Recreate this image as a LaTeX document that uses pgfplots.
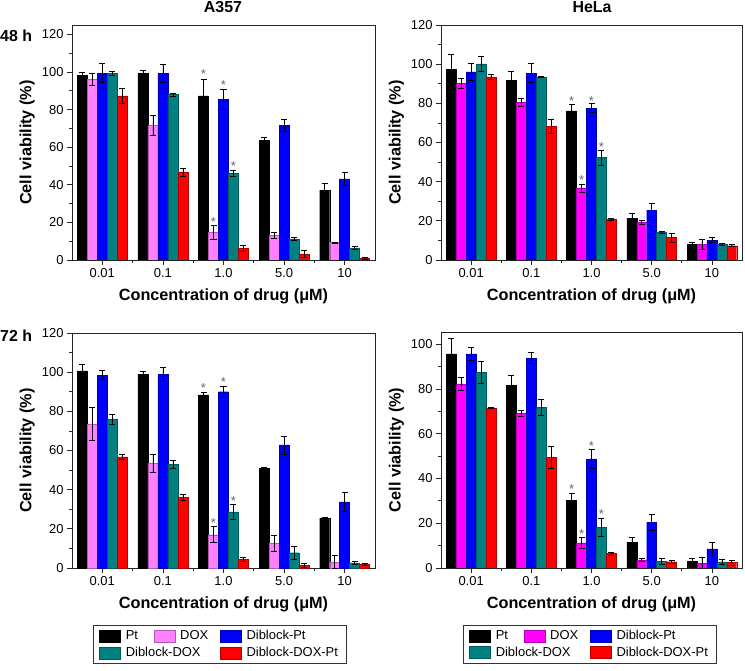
\documentclass[border=0pt]{standalone}
\usepackage{pgfplots}
\usepackage{pgfplotstable}
\pgfplotsset{compat=1.18}
\usepackage{fontspec}
\setmainfont{Liberation Sans}
\definecolor{cPt}{HTML}{000000}
\definecolor{cDOXa}{HTML}{FF80FF}
\definecolor{cDOXh}{HTML}{FF00FF}
\definecolor{cDPt}{HTML}{0000FF}
\definecolor{cDDOX}{HTML}{008080}
\definecolor{cDDP}{HTML}{FF0000}

\pgfplotstableread{
x Pt ePt DOX eDOX DPt eDPt DDOX eDDOX DDP eDDP
0 98.2 1.5 96.1 3.0 99.4 5.0 99.3 1.0 87.3 4.0
1 99.1 2.0 71.5 5.3 99.3 4.6 88.1 0.8 46.7 2.0
2 87.3 9.0 14.7 3.5 85.5 5.1 46.0 1.6 6.2 1.4
3 63.7 1.4 13.1 1.6 71.7 3.2 11.3 0.9 3.2 2.0
4 37.2 3.5 9.2 0.3 43.2 3.3 6.4 0.9 0.9 0.3
}\tAa
\pgfplotstableread{
x Pt ePt DOX eDOX DPt eDPt DDOX eDDOX DDP eDDP
0 97.5 7.5 90.3 2.7 96.1 4.4 100.2 4.0 93.5 1.4
1 91.7 4.6 80.5 2.0 95.4 4.8 93.5 0.2 68.4 3.6
2 76.2 3.4 36.5 2.0 77.6 2.2 52.3 3.7 20.9 0.6
3 21.4 2.4 19.2 1.2 25.5 3.5 14.1 0.4 11.4 2.2
4 8.1 1.1 8.0 2.5 10.2 1.2 8.1 0.4 7.3 0.5
}\tHa
\pgfplotstableread{
x Pt ePt DOX eDOX DPt eDPt DDOX eDDOX DDP eDDP
0 100.7 3.4 73.6 8.3 98.5 2.2 76.0 2.6 56.8 1.5
1 98.8 1.5 53.6 4.6 99.0 3.6 53.1 2.0 36.1 1.7
2 88.4 1.2 17.0 4.1 90.0 2.7 28.6 3.7 4.3 1.0
3 51.0 0.5 12.6 3.9 62.9 4.6 7.8 3.3 1.5 1.1
4 25.5 0.5 3.1 3.5 33.8 4.8 2.6 0.6 2.0 0.4
}\tAb
\pgfplotstableread{
x Pt ePt DOX eDOX DPt eDPt DDOX eDDOX DDP eDDP
0 95.7 7.0 82.3 2.8 95.7 2.8 87.4 4.9 71.6 0.2
1 81.8 4.5 69.2 1.2 93.8 2.5 71.9 3.5 49.6 4.9
2 30.1 3.5 11.2 2.5 48.8 4.2 18.2 4.0 6.4 0.7
3 11.6 2.1 3.6 0.7 20.4 3.6 3.0 1.5 2.8 0.5
4 3.0 1.2 2.2 2.4 8.5 3.0 2.7 1.2 2.4 1.0
}\tHb

\pgfplotsset{
 cellax/.style={
  scale only axis, ybar, bar width=0.165, ymin=0, xmin=-0.5, xmax=4.5,
  xtick={0,...,4}, xticklabels={0.01,0.1,1.0,5.0,10},
  minor xtick={0.5,1.5,2.5,3.5},
  minor y tick num=1,
  tick align=outside, tick pos=left,
  major tick length=5bp, minor tick length=3bp,
  axis line style={black!85, line width=0.8bp},
  every tick/.style={black!85, line width=0.8bp},
  tick label style={font=\fontsize{13}{15}\selectfont},
  /pgf/number format/assume math mode=true,
  ylabel={Cell viability (\%)}, xlabel={Concentration of drug (μM)},
  every axis y label/.style={at={(axis description cs:-0.148,0.5)}, rotate=90, anchor=center,
     font=\bfseries\fontsize{16.3}{18}\selectfont},
  every axis x label/.style={at={(axis description cs:0.5,-0.155)}, anchor=center,
     font=\bfseries\fontsize{16.3}{18}\selectfont},
  legend image code/.code={\draw[#1, line width=0.4bp] (0bp,-6bp) rectangle (21bp,6bp);},
 },
 bars/.style={fill=#1, draw=#1!70!black, line width=0.4bp,
  error bars/y dir=both, error bars/y explicit,
  error bars/error bar style={black, line width=0.6bp},
  error bars/error mark options={black, rotate=90, mark size=3bp, line width=0.6bp}},
 leg/.style={legend columns=3, legend cell align=left,
  legend style={at={(axis description cs:#1)}, anchor=north west, draw=black!80, line width=0.8bp,
   font=\fontsize{13}{15}\selectfont, row sep=2bp, inner xsep=6bp, inner ysep=3bp,
   /tikz/every odd column/.append style={column sep=3bp},
   /tikz/every even column/.append style={column sep=6bp}}},
}
\tikzset{ast/.style={font=\fontsize{13}{13}\selectfont, text=black!60, inner sep=0pt, anchor=base, yshift=-7.4bp}}

\begin{document}
\begin{tikzpicture}
\useasboundingbox (0,0) rectangle (745bp,671bp);
\node[font=\bfseries\fontsize{16}{18}\selectfont, anchor=base] at (223bp,658bp) {A357};
\node[font=\bfseries\fontsize{16}{18}\selectfont, anchor=base] at (592bp,658bp) {HeLa};
\node[font=\bfseries\fontsize{16}{18}\selectfont, anchor=base west, inner sep=0pt] at (0bp,629bp) {48 h};
\node[font=\bfseries\fontsize{16}{18}\selectfont, anchor=base west, inner sep=0pt] at (0bp,329bp) {72 h};

% A357 48 h
\begin{axis}[cellax, at={(72bp,411bp)}, anchor=south west, width=303bp, height=235bp,
  ymax=125, ytick={0,20,...,120}]
\addplot[bars=cPt, bar shift=-0.33] table[x=x, y=Pt, y error=ePt]{\tAa};
\addplot[bars=cDOXa, bar shift=-0.165] table[x=x, y=DOX, y error=eDOX]{\tAa};
\addplot[bars=cDPt, bar shift=0] table[x=x, y=DPt, y error=eDPt]{\tAa};
\addplot[bars=cDDOX, bar shift=0.165] table[x=x, y=DDOX, y error=eDDOX]{\tAa};
\addplot[bars=cDDP, bar shift=0.33] table[x=x, y=DDP, y error=eDDP]{\tAa};
\node[ast] at (axis cs:1.67,100.4) {*};
\node[ast] at (axis cs:1.835,21.8) {*};
\node[ast] at (axis cs:2.0,94.5) {*};
\node[ast] at (axis cs:2.165,51.3) {*};
\end{axis}

% HeLa 48 h
\begin{axis}[cellax, at={(441bp,411bp)}, anchor=south west, width=301bp, height=235bp,
  ymax=120, ytick={0,20,...,120}]
\addplot[bars=cPt, bar shift=-0.33] table[x=x, y=Pt, y error=ePt]{\tHa};
\addplot[bars=cDOXh, bar shift=-0.165] table[x=x, y=DOX, y error=eDOX]{\tHa};
\addplot[bars=cDPt, bar shift=0] table[x=x, y=DPt, y error=eDPt]{\tHa};
\addplot[bars=cDDOX, bar shift=0.165] table[x=x, y=DDOX, y error=eDDOX]{\tHa};
\addplot[bars=cDDP, bar shift=0.33] table[x=x, y=DDP, y error=eDDP]{\tHa};
\node[ast] at (axis cs:1.67,82.9) {*};
\node[ast] at (axis cs:1.835,42.4) {*};
\node[ast] at (axis cs:2.0,82.9) {*};
\node[ast] at (axis cs:2.165,59.4) {*};
\end{axis}

% A357 72 h
\begin{axis}[cellax, at={(72bp,103bp)}, anchor=south west, width=303bp, height=235bp,
  ymax=120, ytick={0,20,...,120}, leg={0.0693,-0.2426}]
\addplot[bars=cPt, bar shift=-0.33] table[x=x, y=Pt, y error=ePt]{\tAb};
\addlegendentry{\makebox[20bp][l]{Pt}}
\addplot[bars=cDOXa, bar shift=-0.165] table[x=x, y=DOX, y error=eDOX]{\tAb};
\addlegendentry{\makebox[32bp][l]{DOX}}
\addplot[bars=cDPt, bar shift=0] table[x=x, y=DPt, y error=eDPt]{\tAb};
\addlegendentry{Diblock-Pt}
\addplot[bars=cDDOX, bar shift=0.165] table[x=x, y=DDOX, y error=eDDOX]{\tAb};
\addlegendentry{\makebox[20bp][l]{Diblock-DOX}}
\addlegendimage{empty legend}\addlegendentry{}
\addplot[bars=cDDP, bar shift=0.33] table[x=x, y=DDP, y error=eDDP]{\tAb};
\addlegendentry{Diblock-DOX-Pt}
\node[ast] at (axis cs:1.67,93.5) {*};
\node[ast] at (axis cs:1.835,24.7) {*};
\node[ast] at (axis cs:2.0,96.4) {*};
\node[ast] at (axis cs:2.165,35.5) {*};
\end{axis}

% HeLa 72 h
\begin{axis}[cellax, at={(441bp,103bp)}, anchor=south west, width=301bp, height=236bp,
  ymax=105.5, ytick={0,20,...,100}, leg={0.073,-0.2415}]
\addplot[bars=cPt, bar shift=-0.33] table[x=x, y=Pt, y error=ePt]{\tHb};
\addlegendentry{\makebox[20bp][l]{Pt}}
\addplot[bars=cDOXh, bar shift=-0.165] table[x=x, y=DOX, y error=eDOX]{\tHb};
\addlegendentry{\makebox[32bp][l]{DOX}}
\addplot[bars=cDPt, bar shift=0] table[x=x, y=DPt, y error=eDPt]{\tHb};
\addlegendentry{Diblock-Pt}
\addplot[bars=cDDOX, bar shift=0.165] table[x=x, y=DDOX, y error=eDDOX]{\tHb};
\addlegendentry{\makebox[20bp][l]{Diblock-DOX}}
\addlegendimage{empty legend}\addlegendentry{}
\addplot[bars=cDDP, bar shift=0.33] table[x=x, y=DDP, y error=eDDP]{\tHb};
\addlegendentry{Diblock-DOX-Pt}
\node[ast] at (axis cs:1.67,36.8) {*};
\node[ast] at (axis cs:1.835,16.7) {*};
\node[ast] at (axis cs:2.0,55.8) {*};
\node[ast] at (axis cs:2.165,25.6) {*};
\end{axis}
\end{tikzpicture}
\end{document}
